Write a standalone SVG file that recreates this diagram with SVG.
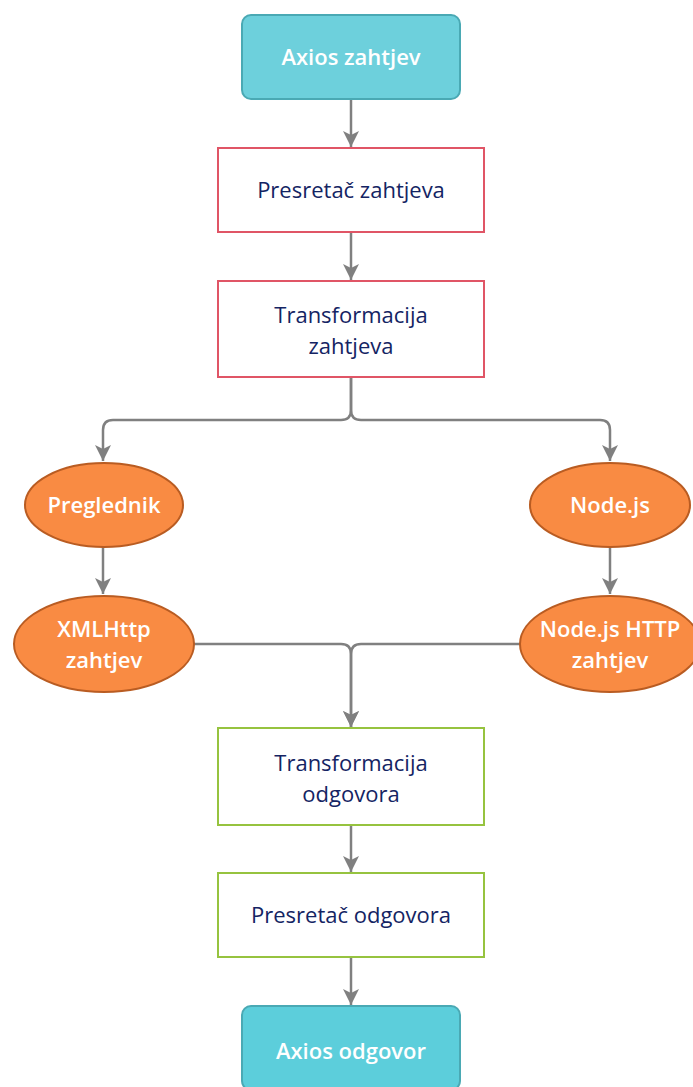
<svg xmlns="http://www.w3.org/2000/svg" width="693" height="1087" viewBox="0 0 693 1087">
<style>
.t{font-family:"Open Sans","Noto Sans","DejaVu Sans",sans-serif;font-size:22px;text-anchor:middle}
.w{fill:#ffffff;font-weight:600}
.d{fill:#142463;font-weight:500}
.term{stroke:#4aa9b4;stroke-width:2}
.red{fill:#ffffff;stroke:#e05566;stroke-width:2}
.grn{fill:#ffffff;stroke:#96c33f;stroke-width:2}
.ora{fill:#f98b43;stroke:#b95c22;stroke-width:2}
.c{fill:none;stroke:#808080;stroke-width:2.5}
</style>
<defs>
<marker id="ah" markerUnits="userSpaceOnUse" markerWidth="18" markerHeight="18" viewBox="0 0 18 18" refX="16" refY="9" orient="auto">
<path d="M0,1 L16,9 L0,17 L4,9 z" fill="#808080"/>
</marker>
</defs>
<rect width="693" height="1087" fill="#ffffff"/>
<g id="connectors">
<path class="c" d="M351,100 V147" marker-end="url(#ah)"/>
<path class="c" d="M351,232 V280" marker-end="url(#ah)"/>
<path class="c" d="M351,377 V410 Q351,420 341,420 H113 Q103,420 103,430 V461" marker-end="url(#ah)"/>
<path class="c" d="M351,377 V410 Q351,420 361,420 H600 Q610,420 610,430 V461" marker-end="url(#ah)"/>
<path class="c" d="M103,547 V594" marker-end="url(#ah)"/>
<path class="c" d="M610,547 V594" marker-end="url(#ah)"/>
<path class="c" d="M194,644 H341 Q351,644 351,654 V727" marker-end="url(#ah)"/>
<path class="c" d="M520,644 H361 Q351,644 351,654 V727" marker-end="url(#ah)"/>
<path class="c" d="M351,825 V872" marker-end="url(#ah)"/>
<path class="c" d="M351,957 V1005" marker-end="url(#ah)"/>
</g>
<g id="axios-zahtjev">
<rect class="term" x="242" y="15" width="218" height="84" rx="9" fill="#6dd0dc"/>
<text class="t w" x="351" y="65">Axios zahtjev</text>
</g>
<g id="presretac-zahtjeva">
<rect class="red" x="218" y="148" width="266" height="84"/>
<text class="t d" x="351" y="198">Presretač zahtjeva</text>
</g>
<g id="transformacija-zahtjeva">
<rect class="red" x="218" y="281" width="266" height="96"/>
<text class="t d" x="351" y="323">Transformacija</text>
<text class="t d" x="351" y="354">zahtjeva</text>
</g>
<g id="preglednik">
<ellipse class="ora" cx="104" cy="505" rx="79" ry="42"/>
<text class="t w" x="104" y="513">Preglednik</text>
</g>
<g id="nodejs">
<ellipse class="ora" cx="610" cy="505" rx="80" ry="42"/>
<text class="t w" x="610" y="513">Node.js</text>
</g>
<g id="xmlhttp-zahtjev">
<ellipse class="ora" cx="104" cy="644" rx="90" ry="48"/>
<text class="t w" x="104" y="637">XMLHttp</text>
<text class="t w" x="104" y="668">zahtjev</text>
</g>
<g id="nodejs-http-zahtjev">
<ellipse class="ora" cx="610" cy="644" rx="90" ry="48"/>
<text class="t w" x="610" y="637">Node.js HTTP</text>
<text class="t w" x="610" y="668">zahtjev</text>
</g>
<g id="transformacija-odgovora">
<rect class="grn" x="218" y="728" width="266" height="97"/>
<text class="t d" x="351" y="771">Transformacija</text>
<text class="t d" x="351" y="802">odgovora</text>
</g>
<g id="presretac-odgovora">
<rect class="grn" x="218" y="873" width="266" height="84"/>
<text class="t d" x="351" y="923">Presretač odgovora</text>
</g>
<g id="axios-odgovor">
<rect class="term" x="242" y="1006" width="218" height="84" rx="9" fill="#5ccedb"/>
<text class="t w" x="351" y="1059">Axios odgovor</text>
</g>
</svg>
